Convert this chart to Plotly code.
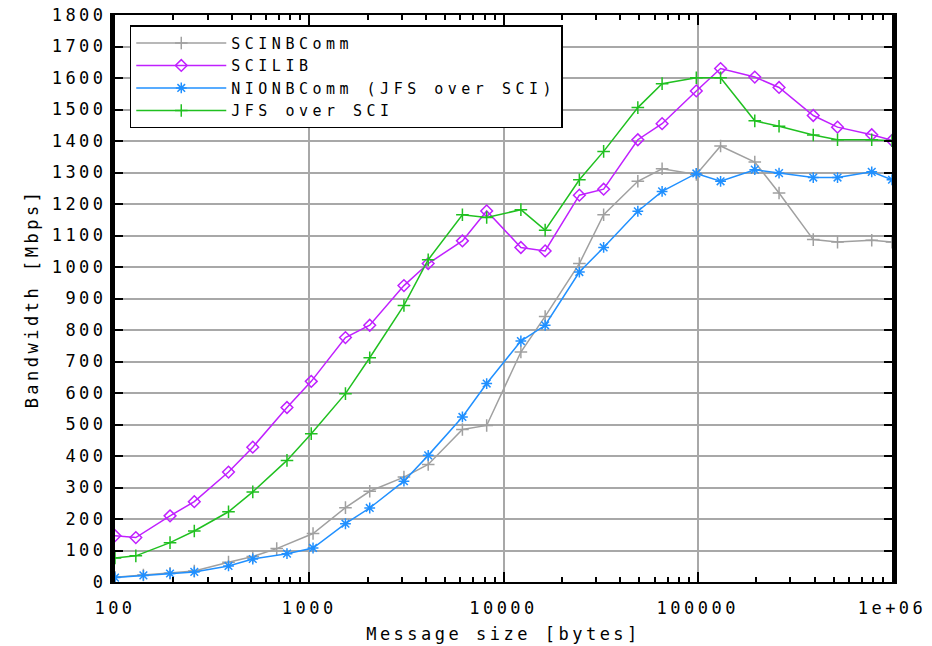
import plotly.graph_objects as go

# ---------------- data ----------------
sizes_a = [100, 128, 192, 256, 384, 512, 768, 1024, 1536, 2048, 3072, 4096, 6144, 8192,
           12288, 16384, 24576, 32768, 49152, 65536, 98304, 131072, 196608, 262144,
           393216, 524288, 786432, 1000000]
sizes_b = [100, 140, 192, 256, 384, 512, 768, 1046, 1536, 2048, 3072, 4096, 6144, 8192,
           12288, 16384, 24576, 32768, 49152, 65536, 98304, 131072, 196608, 262144,
           393216, 524288, 786432, 1000000]
sizes_c = [100, 140, 192, 256, 384, 512, 680, 1046, 1536, 2048, 3072, 4096, 6144, 8192,
           12288, 16384, 24576, 32768, 49152, 65536, 98304, 131072, 196608, 262144,
           393216, 524288, 786432, 1000000]

scinbcomm = [15, 22, 28, 35, 63, 81, 106, 154, 236, 288, 333, 373, 484, 497,
             730, 843, 1011, 1166, 1272, 1312, 1294, 1384, 1333, 1235, 1087, 1079, 1085, 1079]
scilib = [147, 141, 210, 255, 349, 428, 554, 637, 776, 815, 941, 1011, 1083, 1178,
          1062, 1051, 1228, 1247, 1404, 1455, 1559, 1630, 1603, 1570, 1481, 1444, 1420, 1402]
nionbcomm = [14, 21, 27, 32, 51, 73, 90, 108, 185, 235, 320, 402, 524, 630,
             765, 815, 984, 1062, 1177, 1240, 1297, 1272, 1309, 1298, 1284, 1284, 1302, 1277]
jfs = [76, 83, 125, 162, 223, 286, 386, 471, 598, 712, 878, 1023, 1166, 1157,
       1182, 1117, 1277, 1367, 1506, 1582, 1601, 1601, 1464, 1447, 1419, 1404, 1404, 1401]

series_names = ["SCINBComm", "SCILIB", "NIONBComm (JFS over SCI)", "JFS over SCI"]
y_ticks = list(range(0, 1801, 100))
x_ticks = [100, 1000, 10000, 100000, 1000000]
x_tick_labels = ["100", "1000", "10000", "100000", "1e+06"]
x_title = "Message size [bytes]"
y_title = "Bandwidth [Mbps]"

# ---------------- style ----------------
FONT = "DejaVu Sans Mono"
FS = 17
LFS = 15


def sp(t, ls=3.5):
    return '<span style="letter-spacing:%spx">' % ls + t + '</span>'


colors = ["#a0a0a0", "#c020ff", "#2090ff", "#20c020"]
symbols = ["cross-thin-open", "diamond-open", "asterisk-open", "cross-thin-open"]
xs = [sizes_c, sizes_a, sizes_b, sizes_a]
ys = [scinbcomm, scilib, nionbcomm, jfs]

fig = go.Figure()
for name, x, y, c, s in zip(series_names, xs, ys, colors, symbols):
    fig.add_trace(go.Scatter(
        x=x, y=y, name=sp(name, 4.5), mode="lines+markers",
        line=dict(color=c, width=1.5),
        marker=dict(symbol=s, size=9, color=c, line=dict(color=c, width=1.5)),
    ))

minor_vals = [m * 10 ** e for e in range(2, 6) for m in range(2, 10)]

fig.update_layout(
    width=932, height=646,
    margin=dict(l=115, r=40, t=15, b=64),
    paper_bgcolor="white", plot_bgcolor="white",
    font=dict(family=FONT, size=FS, color="black"),
    showlegend=True,
    legend=dict(
        x=0.019, y=0.982, xanchor="left", yanchor="top",
        bgcolor="white", bordercolor="black", borderwidth=1.5,
        font=dict(family=FONT, size=LFS, color="black"),
        tracegroupgap=0, itemwidth=90,
    ),
    xaxis=dict(
        type="log", range=[2, 6], automargin=False,
        tickmode="array", tickvals=x_ticks, ticktext=[sp(t) for t in x_tick_labels],
        ticks="inside", ticklen=10, tickwidth=1.5, tickcolor="black",
        ticklabelstandoff=10,
        showline=True, linecolor="black", linewidth=2, mirror="allticks",
        showgrid=True, gridcolor="#a8a8a8", gridwidth=1.5,
        minor=dict(tickmode="array", tickvals=minor_vals, ticks="inside",
                   ticklen=5, tickwidth=1.5, tickcolor="black", showgrid=False),
        title=dict(text=sp(x_title), standoff=11, font=dict(family=FONT, size=FS)),
        zeroline=False,
    ),
    yaxis=dict(
        range=[0, 1800], automargin=False,
        tickmode="array", tickvals=y_ticks, ticktext=[sp(str(v)) for v in y_ticks],
        ticks="inside", ticklen=8, tickwidth=1.5, tickcolor="black",
        showline=True, linecolor="black", linewidth=5, mirror="allticks",
        showgrid=True, gridcolor="#a8a8a8", gridwidth=1.5,
        title=dict(text=sp(y_title), standoff=10, font=dict(family=FONT, size=FS)),
        zeroline=False,
    ),
)

fig.write_html("out.html")
